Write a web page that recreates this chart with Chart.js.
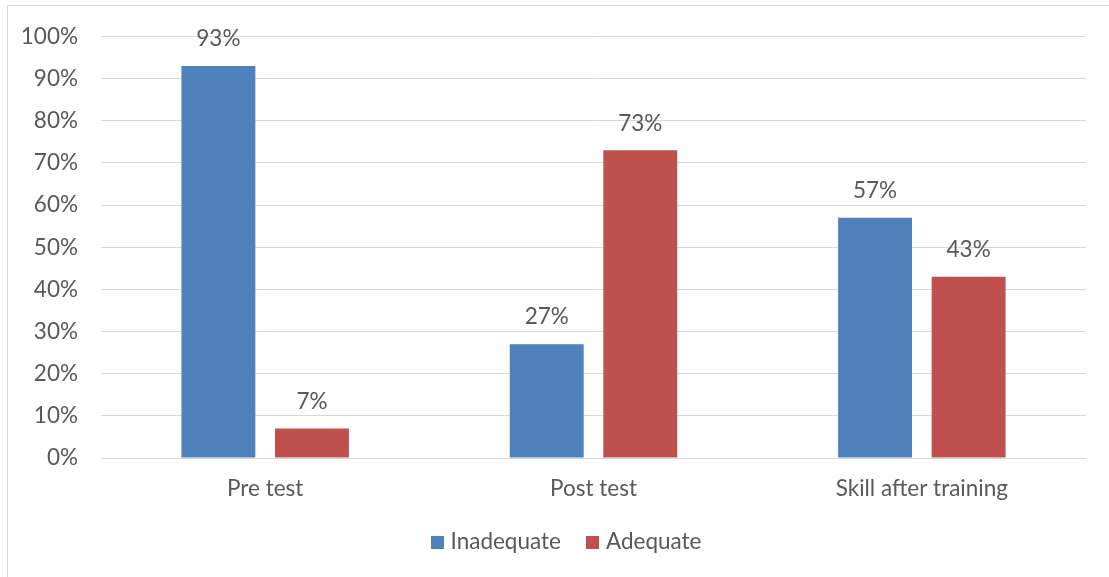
<!DOCTYPE html>
<html><head><meta charset="utf-8">
<script src="https://cdn.jsdelivr.net/npm/chart.js@4/dist/chart.umd.min.js"></script>
<style>
html,body{margin:0;padding:0;background:#fff;}
#wrap{position:relative;width:1109px;height:577px;overflow:hidden;}
#frame{position:absolute;left:7px;top:5px;width:1200px;height:700px;border:1px solid #D9D9D9;box-sizing:border-box;}
canvas{position:absolute;left:0;top:0;}
</style></head>
<body><div id="wrap"><div id="frame"></div><canvas id="c" width="1109" height="577"></canvas></div>
<script>
const categories = ["Pre test", "Post test", "Skill after training"];
const inadequate = [93, 27, 57];
const adequate = [7, 73, 43];
const yTicks = [0,10,20,30,40,50,60,70,80,90,100];
const FONT = "Lato, 'Open Sans', sans-serif";
const FS = 22.5;
const TXT = "#595959";

const labelPlugin = {
  id: 'dl',
  afterDatasetsDraw(chart) {
    const ctx = chart.ctx;
    ctx.save();
    ctx.font = FS + "px " + FONT;
    ctx.fillStyle = TXT;
    ctx.textAlign = 'center';
    ctx.textBaseline = 'middle';
    chart.data.datasets.forEach((ds, i) => {
      chart.getDatasetMeta(i).data.forEach((bar, j) => {
        ctx.fillText(ds.data[j] + '%', bar.x, bar.y - 27);
      });
    });
    // legend
    const box = 13, gapText = 7, gapItem = 25, cy = 542, cx = 566;
    const items = chart.data.datasets.map(ds => ({label: ds.label, color: ds.backgroundColor, w: ctx.measureText(ds.label).width}));
    let total = items.reduce((a, it) => a + box + gapText + it.w, 0) + gapItem * (items.length - 1);
    let x = cx - total / 2;
    ctx.textAlign = 'left';
    items.forEach(it => {
      ctx.fillStyle = it.color;
      ctx.fillRect(Math.round(x), Math.round(cy - box / 2), box, box);
      ctx.fillStyle = TXT;
      ctx.fillText(it.label, x + box + gapText, cy);
      x += box + gapText + it.w + gapItem;
    });
    ctx.restore();
  }
};

new Chart(document.getElementById('c'), {
  type: 'bar',
  data: {
    labels: categories,
    datasets: [
      {label: 'Inadequate', data: inadequate, backgroundColor: '#4F81BD'},
      {label: 'Adequate', data: adequate, backgroundColor: '#C0504D'}
    ]
  },
  options: {
    responsive: false,
    animation: false,
    devicePixelRatio: 1,
    categoryPercentage: 0.57,
    barPercentage: 0.79,
    layout: {padding: {left: 0, right: 23, top: 34, bottom: 56}},
    plugins: {
      tooltip: {enabled: false},
      legend: {display: false}
    },
    scales: {
      x: {
        grid: {display: false, drawTicks: false},
        border: {display: true, color: '#D9D9D9', width: 1},
        ticks: {color: TXT, font: {family: FONT, size: FS}, padding: 17},
        afterFit(s) { s.height = 63; }
      },
      y: {
        min: 0, max: 100,
        afterBuildTicks(s) { s.ticks = yTicks.map(v => ({value: v})); },
        grid: {color: '#D9D9D9', drawTicks: false},
        border: {display: false},
        ticks: {color: TXT, font: {family: FONT, size: FS}, padding: 23, callback: v => v + '%'},
        afterFit(s) { s.width = 101; }
      }
    }
  },
  plugins: [labelPlugin]
});
</script></body></html>
